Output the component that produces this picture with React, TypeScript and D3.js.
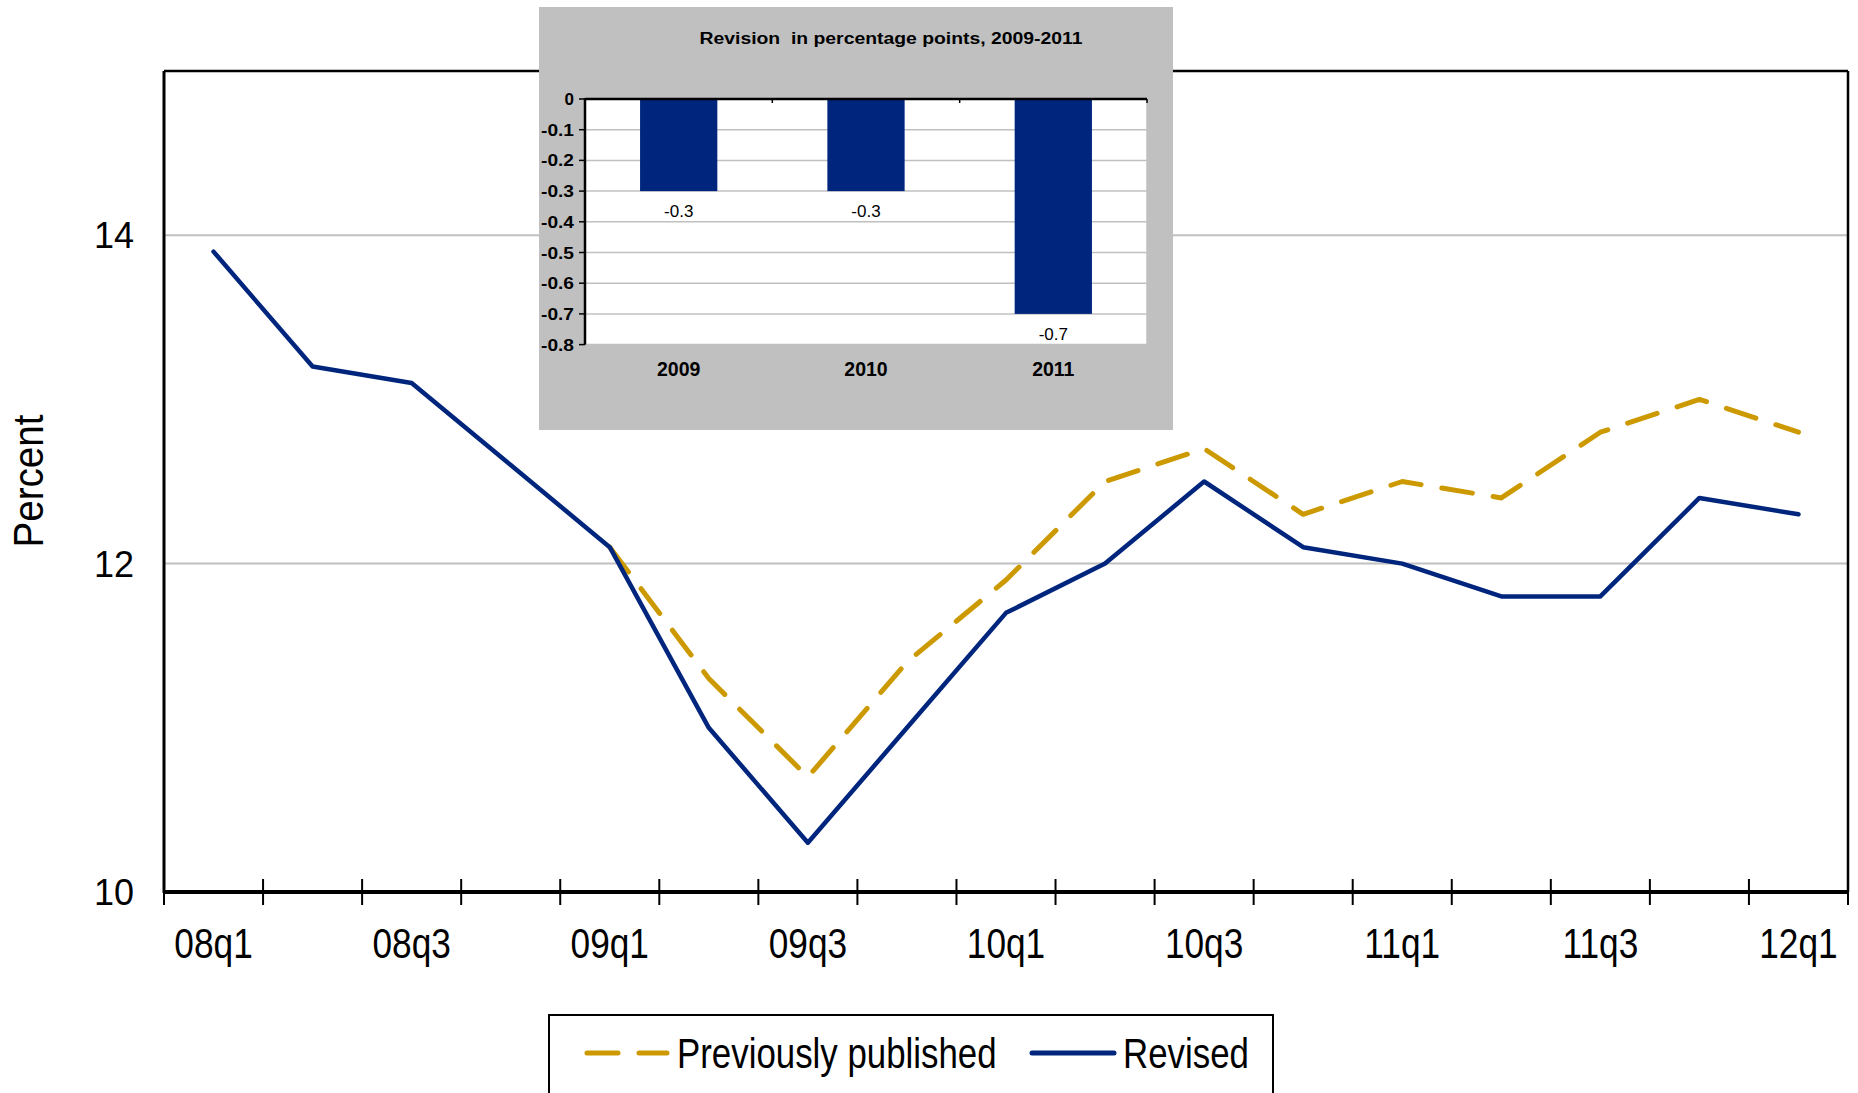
import React from "react";
import * as d3 from "d3";

const quarters = [
  "08q1", "08q2", "08q3", "08q4",
  "09q1", "09q2", "09q3", "09q4",
  "10q1", "10q2", "10q3", "10q4",
  "11q1", "11q2", "11q3", "11q4",
  "12q1",
];
const revised: (number | null)[] = [
  13.9, 13.2, 13.1, 12.6,
  12.1, 11.0, 10.3, 11.0,
  11.7, 12.0, 12.5, 12.1,
  12.0, 11.8, 11.8, 12.4,
  12.3,
];
const previouslyPublished: (number | null)[] = [
  null, null, null, null,
  12.1, 11.3, 10.7, 11.4,
  11.9, 12.5, 12.7, 12.3,
  12.5, 12.4, 12.8, 13.0,
  12.8,
];
const yTicks = [10, 12, 14];
const gridValues = [12, 14];

const insetYears = ["2009", "2010", "2011"];
const insetValues = [-0.3, -0.3, -0.7];
const insetTicks = [0, -0.1, -0.2, -0.3, -0.4, -0.5, -0.6, -0.7, -0.8];
const insetTitle = "Revision  in percentage points, 2009-2011";

const NAVY = "#00257D";
const GOLD = "#CC9A00";
const GRID = "#C0C0C0";
const SANS = "'Liberation Sans', Arial, sans-serif";

function NarrowText({
  x, y, size, anchor = "start", children,
}: { x: number; y: number; size: number; anchor?: string; children: React.ReactNode }) {
  return (
    <g transform={`translate(${x},${y}) scale(0.82,1)`}>
      <text x={0} y={0} textAnchor={anchor} fontFamily={SANS} fontSize={size} fill="#000">
        {children}
      </text>
    </g>
  );
}

export default function App() {
  const W = 1858;
  const H = 1093;
  const left = 164, right = 1848, top = 71, bottom = 892;

  const x = d3.scaleBand<string>().domain(quarters).range([left, right]).padding(0);
  const y = d3.scaleLinear().domain([10, 15]).range([bottom, top]);
  const cx = (q: string) => (x(q) as number) + x.bandwidth() / 2;

  const line = d3
    .line<number | null>()
    .defined((d) => d != null)
    .x((_, i) => cx(quarters[i]))
    .y((d) => y(d as number));

  const boundaries = d3.range(quarters.length + 1).map((i) => left + i * x.step());

  // inset
  const iLeft = 585, iRight = 1147, iTop = 99, iBottom = 344.6;
  const ix = d3
    .scaleBand<string>()
    .domain(insetYears)
    .range([iLeft, iRight])
    .paddingInner(0.5875)
    .paddingOuter(0.294);
  const iy = d3.scaleLinear().domain([0, -0.8]).range([iTop, iBottom]);
  const iStep = (iRight - iLeft) / insetYears.length;
  const iBoundaries = d3.range(insetYears.length + 1).map((i) => iLeft + i * iStep);
  const fmt = (v: number) => d3.format(".1f")(v).replace("−", "-");

  return (
    <svg
      width={W}
      height={H}
      viewBox={`0 0 ${W} ${H}`}
      style={{ position: "absolute", left: 0, top: 0, background: "#fff" }}
    >
      <rect x={0} y={0} width={W} height={H} fill="#fff" />

      {/* gridlines */}
      {gridValues.map((v) => (
        <line key={v} x1={left} x2={right} y1={y(v)} y2={y(v)} stroke={GRID} strokeWidth={2} />
      ))}

      {/* plot border */}
      <line x1={left} x2={right} y1={top} y2={top} stroke="#000" strokeWidth={2.5} />
      <line x1={right} x2={right} y1={top} y2={bottom} stroke="#000" strokeWidth={2.5} />
      <line x1={left} x2={left} y1={top} y2={bottom + 1} stroke="#000" strokeWidth={3} />
      <line x1={left} x2={right} y1={bottom} y2={bottom} stroke="#000" strokeWidth={4} />

      {/* x ticks */}
      {boundaries.map((bx, i) => (
        <line key={i} x1={bx} x2={bx} y1={bottom - 13} y2={bottom + 13} stroke="#000" strokeWidth={2} />
      ))}

      {/* x labels */}
      {quarters.map((q, i) =>
        i % 2 === 0 ? (
          <NarrowText key={q} x={cx(q)} y={958} size={43} anchor="middle">
            {q}
          </NarrowText>
        ) : null
      )}

      {/* y labels */}
      {yTicks.map((v) => (
        <text key={v} x={134} y={y(v) + 13} textAnchor="end" fontFamily={SANS} fontSize={36} fill="#000">
          {v}
        </text>
      ))}

      <g transform={`translate(43, 481) rotate(-90) scale(0.92,1)`}>
        <text x={0} y={0} textAnchor="middle" fontFamily={SANS} fontSize={42} fill="#000">
          Percent
        </text>
      </g>

      {/* series */}
      <path
        d={line(previouslyPublished) || ""}
        fill="none"
        stroke={GOLD}
        strokeWidth={5}
        strokeDasharray="31 21"
        strokeLinecap="round"
        strokeLinejoin="round"
      />
      <path
        d={line(revised) || ""}
        fill="none"
        stroke={NAVY}
        strokeWidth={4.5}
        strokeLinecap="round"
        strokeLinejoin="round"
      />

      {/* inset */}
      <g>
        <rect x={539} y={7} width={634} height={423} fill="#C0C0C0" />
        <text
          x={891}
          y={44}
          textAnchor="middle"
          fontFamily={SANS}
          fontWeight="bold"
          fontSize={16}
          textLength={383}
          lengthAdjust="spacingAndGlyphs"
          fill="#000"
          style={{ whiteSpace: "pre" }}
        >
          {insetTitle}
        </text>
        <rect x={iLeft} y={iTop} width={iRight - iLeft} height={iBottom - iTop} fill="#fff" />
        {insetTicks
          .filter((t) => t !== 0)
          .map((t) => (
            <line key={t} x1={iLeft} x2={iRight} y1={iy(t)} y2={iy(t)} stroke={GRID} strokeWidth={1.5} />
          ))}
        <line x1={iRight} x2={iRight} y1={iTop} y2={iBottom} stroke={GRID} strokeWidth={1.5} />
        {insetYears.map((yr, i) => (
          <rect
            key={yr}
            x={ix(yr) as number}
            y={iy(0)}
            width={ix.bandwidth()}
            height={iy(insetValues[i]) - iy(0)}
            fill={NAVY}
          />
        ))}
        <line x1={iLeft} x2={iRight} y1={iTop} y2={iTop} stroke="#000" strokeWidth={2.5} />
        {iBoundaries.slice(1).map((bx, i) => (
          <line key={i} x1={bx} x2={bx} y1={iTop} y2={iTop + 4} stroke="#000" strokeWidth={1.5} />
        ))}
        <line x1={iLeft} x2={iLeft} y1={iTop - 1} y2={iBottom} stroke="#000" strokeWidth={2.5} />
        {insetTicks.map((t) => (
          <line key={t} x1={iLeft - 6} x2={iLeft} y1={iy(t)} y2={iy(t)} stroke="#000" strokeWidth={1.5} />
        ))}
        {insetTicks.map((t) => (
          <text
            key={t}
            x={574}
            y={iy(t) + 6}
            textAnchor="end"
            fontFamily={SANS}
            fontWeight="bold"
            fontSize={17}
            fill="#000"
            textLength={t === 0 ? undefined : 33}
            lengthAdjust="spacingAndGlyphs"
          >
            {t === 0 ? "0" : fmt(t)}
          </text>
        ))}
        {insetYears.map((yr, i) => (
          <text
            key={yr}
            x={(ix(yr) as number) + ix.bandwidth() / 2}
            y={iy(insetValues[i]) + 26}
            textAnchor="middle"
            fontFamily={SANS}
            fontSize={17}
            fill="#000"
          >
            {fmt(insetValues[i])}
          </text>
        ))}
        {insetYears.map((yr) => (
          <text
            key={yr}
            x={(ix(yr) as number) + ix.bandwidth() / 2}
            y={376}
            textAnchor="middle"
            fontFamily={SANS}
            fontWeight="bold"
            fontSize={19.5}
            fill="#000"
          >
            {yr}
          </text>
        ))}
      </g>

      {/* legend */}
      <rect x={549} y={1015} width={724} height={100} fill="#fff" stroke="#000" strokeWidth={2} />
      <line x1={587} x2={667} y1={1053} y2={1053} stroke={GOLD} strokeWidth={5} strokeDasharray="31 21" strokeLinecap="round" />
      <NarrowText x={677} y={1068} size={42.5}>
        Previously published
      </NarrowText>
      <line x1={1032} x2={1114} y1={1053} y2={1053} stroke={NAVY} strokeWidth={5} strokeLinecap="round" />
      <NarrowText x={1123} y={1068} size={42.5}>
        Revised
      </NarrowText>
    </svg>
  );
}
